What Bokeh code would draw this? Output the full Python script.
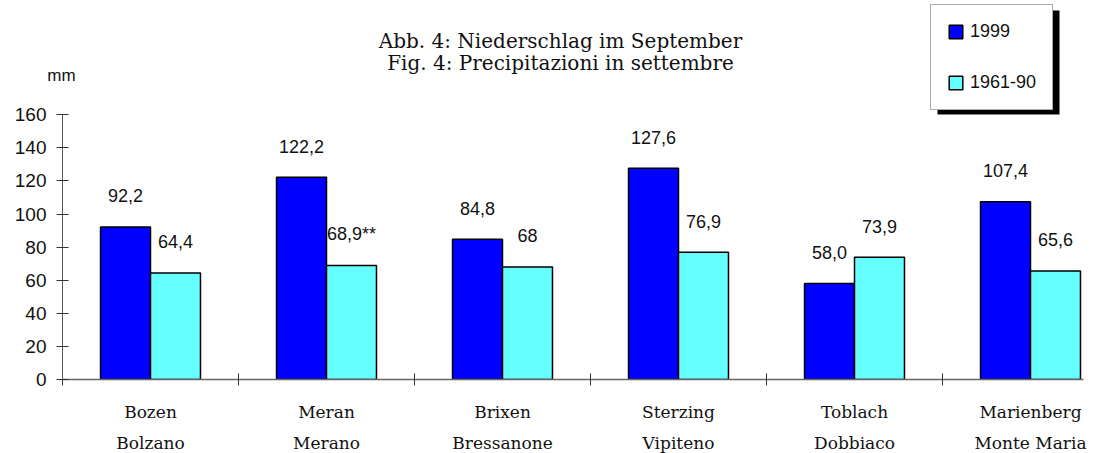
from bokeh.plotting import figure
from bokeh.models import (Range1d, LinearAxis, FixedTicker, Legend, LegendItem,
                          Label, BoxAnnotation, ColumnDataSource)
from bokeh.core.properties import value
from bokeh.embed import file_html
from bokeh.resources import INLINE

# ---- data ----
stations_de = ["Bozen", "Meran", "Brixen", "Sterzing", "Toblach", "Marienberg"]
stations_it = ["Bolzano", "Merano", "Bressanone", "Vipiteno", "Dobbiaco", "Monte Maria"]
precip_1999 = [92.2, 122.2, 84.8, 127.6, 58.0, 107.4]
precip_normal = [64.4, 68.9, 68.0, 76.9, 73.9, 65.6]
labels_1999 = ["92,2", "122,2", "84,8", "127,6", "58,0", "107,4"]
labels_normal = ["64,4", "68,9**", "68", "76,9", "73,9", "65,6"]
series_names = ["1999", "1961-90"]
y_ticks = [0, 20, 40, 60, 80, 100, 120, 140, 160]
title_lines = ["Abb. 4: Niederschlag im September", "Fig. 4: Precipitazioni in settembre"]
unit_label = "mm"

n = len(stations_de)
bar_w = 0.284
centers = [i + 0.5 for i in range(n)]
x_1999 = [c - bar_w / 2 for c in centers]
x_norm = [c + bar_w / 2 for c in centers]

src1 = ColumnDataSource(dict(x=x_1999, top=precip_1999, lab=labels_1999))
src2 = ColumnDataSource(dict(x=x_norm, top=precip_normal, lab=labels_normal))

SANS = "Liberation Sans"
SERIF = "DejaVu Serif"

FRAME_W, FRAME_H = 1021, 379
PX_PER_CAT = 176.0
PX_PER_MM = 1.655

p = figure(frame_width=FRAME_W, frame_height=FRAME_H,
           x_range=Range1d(0, FRAME_W / PX_PER_CAT),
           y_range=Range1d(0, FRAME_H / PX_PER_MM),
           output_backend="svg", toolbar_location=None,
           min_border_left=62, min_border_right=0, min_border_top=0,
           min_border_bottom=0)
p.outline_line_color = None
p.xgrid.grid_line_color = None
p.ygrid.grid_line_color = None
p.background_fill_color = "white"
p.border_fill_color = "white"

r1 = p.vbar(x="x", top="top", width=bar_w, bottom=0, source=src1,
            fill_color="#0000FF", line_color="black", line_width=1.5)
r2 = p.vbar(x="x", top="top", width=bar_w, bottom=0, source=src2,
            fill_color="#66FFFF", line_color="black", line_width=1.5)

for src in (src1, src2):
    p.text(x="x", y="top", text="lab", source=src, y_offset=-31,
           text_align="center", text_baseline="middle",
           text_font=value(SANS), text_font_size="18px", text_color="#111111")

# y axis (only drawn from 0 to 160)
ya = p.yaxis[0]
ya.ticker = FixedTicker(ticks=y_ticks, minor_ticks=[])
ya.bounds = (y_ticks[0], y_ticks[-1])
ya.major_tick_in = 6
ya.major_tick_out = 6
ya.major_tick_line_color = "#333333"
ya.axis_line_color = "#555555"
ya.major_label_standoff = 10
ya.major_label_text_font = SANS
ya.major_label_text_font_size = "19px"
ya.major_label_text_color = "#111111"

# x axis: boundary ticks as minor ticks, German names at centers
xa = p.xaxis[0]
xa.ticker = FixedTicker(ticks=centers, minor_ticks=list(range(n + 1)))
xa.major_tick_line_color = None
xa.major_tick_in = 0
xa.major_tick_out = 6
xa.minor_tick_in = 6
xa.minor_tick_out = 6
xa.minor_tick_line_color = "#333333"
xa.axis_line_color = "#666666"
xa.axis_line_width = 1.5
xa.major_label_overrides = {c: s for c, s in zip(centers, stations_de)}
xa.major_label_standoff = 16
xa.major_label_text_font = SERIF
xa.major_label_text_font_size = "17px"
xa.major_label_text_color = "#111111"

xa2 = LinearAxis(ticker=FixedTicker(ticks=centers, minor_ticks=[]),
                 major_label_overrides={c: s for c, s in zip(centers, stations_it)},
                 axis_line_color=None, major_tick_line_color=None,
                 minor_tick_line_color=None, major_tick_in=0, major_tick_out=0,
                 major_label_standoff=8, major_label_text_font=SERIF,
                 major_label_text_font_size="17px", major_label_text_color="#111111")
p.add_layout(xa2, "below")

# legend shadow + legend
shadow = BoxAnnotation(left=937, right=1059, top=10, bottom=114,
                       left_units="canvas", right_units="canvas",
                       top_units="canvas", bottom_units="canvas",
                       fill_color="black", fill_alpha=1.0, line_color=None)
p.add_layout(shadow, "center")

legend = Legend(items=[LegendItem(label=series_names[0], renderers=[r1]),
                       LegendItem(label=series_names[1], renderers=[r2])],
                location=(868, FRAME_H - 110), margin=0, padding=16, spacing=30,
                glyph_width=17, glyph_height=17, label_standoff=6,
                label_text_font=SANS, label_text_font_size="18px",
                label_text_color="#111111",
                border_line_color="#555555", border_line_width=1,
                background_fill_color="white", background_fill_alpha=1.0)
p.add_layout(legend, "center")

# title
for i, line in enumerate(title_lines):
    p.add_layout(Label(x=560, y=40 + 22 * i, x_units="canvas", y_units="canvas",
                       text=line, text_align="center", text_baseline="middle",
                       text_font=SERIF, text_font_size="20px", text_color="#111111"))

# unit label, held in a side panel so that it is not clipped to the frame
p.add_layout(Label(x=61, y=75, x_units="canvas", y_units="canvas", text=unit_label,
                   text_align="center", text_baseline="middle",
                   text_font=SANS, text_font_size="17px", text_color="#111111"), "right")

open("out.html", "w").write(file_html(p, INLINE))
